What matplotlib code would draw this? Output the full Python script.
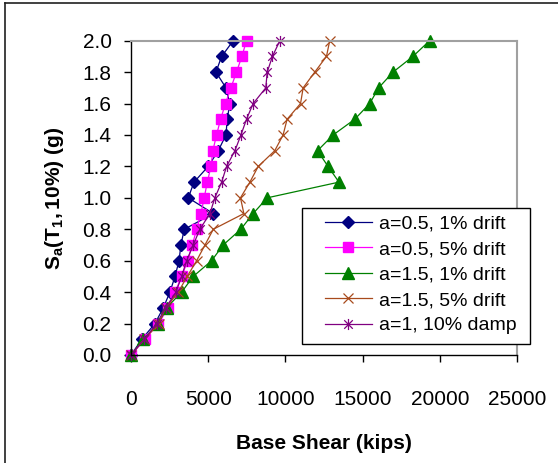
import matplotlib
matplotlib.use('Agg')
import matplotlib.pyplot as plt
from matplotlib.path import Path
from matplotlib.lines import Line2D
from matplotlib.patches import Rectangle

# niveles de Sa (g)
sa = [0.0, 0.1, 0.2, 0.3, 0.4, 0.5, 0.6, 0.7, 0.8, 0.9, 1.0,
      1.1, 1.2, 1.3, 1.4, 1.5, 1.6, 1.7, 1.8, 1.9, 2.0]

# cortante basal (kips) para cada serie
v_a05_1 = [0, 700, 1550, 2090, 2520, 2850, 3110, 3230, 3450, 5330, 3710,
           4080, 5000, 5650, 6150, 6230, 6400, 6150, 5500, 5870, 6620]
v_a05_5 = [0, 900, 1770, 2420, 2850, 3280, 3670, 3970, 4250, 4530, 4740,
           4940, 5180, 5300, 5540, 5800, 6120, 6470, 6830, 7180, 7480]
v_a15_1 = [0, 800, 1770, 2300, 3280, 4030, 5220, 5970, 7110, 7910, 8820,
           13470, 12760, 12080, 13090, 14490, 15460, 16040, 16970, 18260, 19340]
v_a15_5 = [0, 860, 1800, 2240, 3060, 3640, 4250, 4790, 5330, 7310, 7090,
           7700, 8240, 9310, 9850, 10110, 10980, 11150, 11900, 12660, 12870]
v_a1_10 = [0, 860, 1660, 2240, 2910, 3280, 3600, 4030, 4460, 5110, 5430,
           5870, 6190, 6730, 7120, 7480, 7910, 8730, 8820, 9160, 9640]

etiquetas = ['a=0.5, 1% drift', 'a=0.5, 5% drift', 'a=1.5, 1% drift',
             'a=1.5, 5% drift', 'a=1, 10% damp']

plt.rcParams['font.family'] = ['Liberation Sans', 'DejaVu Sans']
plt.rcParams['mathtext.fontset'] = 'custom'
plt.rcParams['mathtext.rm'] = 'Liberation Sans:bold'
plt.rcParams['mathtext.it'] = 'Liberation Sans:bold'
plt.rcParams['mathtext.bf'] = 'Liberation Sans:bold'

# marcador asterisco estilo Excel (X + linea vertical)
asterisco = Path([(-1, -1), (1, 1), (-1, 1), (1, -1), (0, -1.3), (0, 1.3)],
                 [Path.MOVETO, Path.LINETO, Path.MOVETO, Path.LINETO,
                  Path.MOVETO, Path.LINETO])

fig = plt.figure(figsize=(5.58, 4.63), dpi=100)
ax = fig.add_axes([0.2348, 0.2333, 0.6917, 0.6788])

ax.plot(v_a05_1, sa, color='#000080', marker='D', markersize=6, lw=0.9,
        label=etiquetas[0], clip_on=False)
ax.plot(v_a05_5, sa, color='#FF00FF', marker='s', markersize=6.5, lw=0.9,
        label=etiquetas[1], clip_on=False)
ax.plot(v_a15_1, sa, color='#008000', marker='^', markersize=8, lw=0.9,
        label=etiquetas[2], clip_on=False)
ax.plot(v_a15_5, sa, color='#A84A1C', marker='x', markersize=7, mew=0.9, lw=0.9,
        label=etiquetas[3], clip_on=False)
ax.plot(v_a1_10, sa, color='#800080', marker=asterisco, markersize=8, mew=0.9,
        lw=0.9, label=etiquetas[4], clip_on=False)

ax.set_xlim(0, 25000)
ax.set_ylim(0, 2.0)
ax.set_xticks([0, 5000, 10000, 15000, 20000, 25000])
ax.set_yticks([0.0, 0.2, 0.4, 0.6, 0.8, 1.0, 1.2, 1.4, 1.6, 1.8, 2.0])
ax.set_yticklabels(['%.1f' % t for t in ax.get_yticks()])
ax.tick_params(direction='out', length=5, width=1, labelsize=15)
ax.tick_params(axis='y', pad=9)
ax.tick_params(axis='x', pad=20)

for s in ['top', 'right']:
    ax.spines[s].set_color('#A0A0A0')
    ax.spines[s].set_linewidth(1.5)
for s in ['left', 'bottom']:
    ax.spines[s].set_color('black')
    ax.spines[s].set_linewidth(1)

ax.set_xlabel('Base Shear (kips)', fontsize=15, fontweight='bold', labelpad=18)
ax.set_ylabel(r'$\mathrm{S_a(T_1,10\%)\ (g)}$', fontsize=15, labelpad=12)

# recuadro de la leyenda (mas ancho que el de matplotlib)
caja = Rectangle((0.443, 0.035), 0.591, 0.433, transform=ax.transAxes,
                 facecolor='white', edgecolor='black', lw=1, clip_on=False,
                 zorder=9)
ax.add_patch(caja)

leg = ax.legend(loc='center left', bbox_to_anchor=(0.5026, 0.255), fontsize=14,
                frameon=False, handlelength=2.4, handletextpad=0.36,
                labelspacing=0.4, borderpad=0, borderaxespad=0)
leg.set_zorder(10)

# marco exterior (solo arriba e izquierda visibles)
fig.add_artist(Line2D([5 / 558, 5 / 558], [0, 1 - 3 / 463], color='#202020', lw=1.2))
fig.add_artist(Line2D([5 / 558, 1], [1 - 3 / 463, 1 - 3 / 463], color='#202020', lw=1.2))

fig.savefig('out.png', dpi=100)
